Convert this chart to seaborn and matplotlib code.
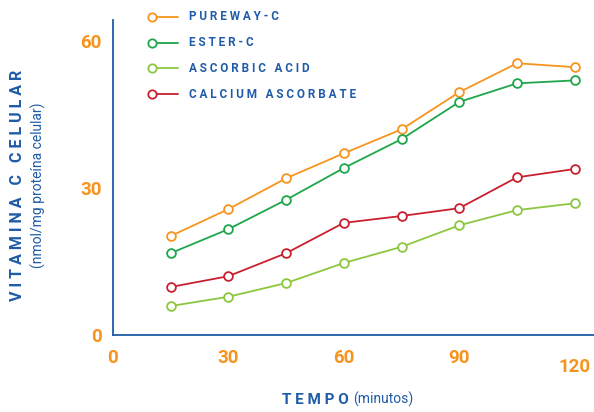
import matplotlib.pyplot as plt
import pandas as pd
import seaborn as sns
from matplotlib.lines import Line2D

# data
minutes = [15, 30, 45, 60, 75, 90, 105, 120]
pureway_c = [20.2, 25.7, 32.0, 37.1, 42.0, 49.6, 55.5, 54.7]
ester_c = [16.7, 21.6, 27.6, 34.1, 40.0, 47.6, 51.4, 52.0]
ascorbic_acid = [5.9, 7.8, 10.6, 14.7, 18.0, 22.4, 25.5, 26.9]
calcium_ascorbate = [9.8, 12.0, 16.7, 22.9, 24.3, 25.9, 32.2, 33.9]

series = ['PUREWAY-C', 'ESTER-C', 'ASCORBIC ACID', 'CALCIUM ASCORBATE']
values = [pureway_c, ester_c, ascorbic_acid, calcium_ascorbate]
colors = ['#F7941D', '#1DA64A', '#8DC63F', '#C8202F']
xticks = [0, 30, 60, 90, 120]
yticks = [0, 30, 60]

blue = '#1F5BA8'
orange = '#F7941D'

df = pd.concat([pd.DataFrame({'tempo': minutes, 'vitc': v, 'serie': s})
                for s, v in zip(series, values)], ignore_index=True)

sns.set_style('white')
plt.rcParams['font.family'] = ['Roboto', 'DejaVu Sans']

fig = plt.figure(figsize=(5.94, 4.12), dpi=100)
ax = fig.add_axes([0.190, 0.187, 0.810, 0.764])

sns.lineplot(data=df, x='tempo', y='vitc', hue='serie', palette=colors,
             hue_order=series, marker='o', markersize=6.3, markerfacecolor='white',
             markeredgewidth=1.3, linewidth=1.3, legend=False, ax=ax)
for line, c in zip(ax.lines, colors):
    line.set_markeredgecolor(c)

ax.set_xlim(0, 125)
ax.set_ylim(0, 64.3)
for s in ['top', 'right']:
    ax.spines[s].set_visible(False)
for s in ['left', 'bottom']:
    ax.spines[s].set_color(blue)
    ax.spines[s].set_linewidth(1.3)

ax.set_xticks(xticks)
ax.set_yticks(yticks)
ax.set_xticklabels([str(t) for t in xticks])
ax.set_yticklabels([str(t) for t in yticks])
ax.tick_params(axis='both', length=0, labelsize=13.5, labelcolor=orange)
ax.tick_params(axis='x', pad=10)
ax.tick_params(axis='y', pad=8)
for lab in ax.get_xticklabels() + ax.get_yticklabels():
    lab.set_fontweight('bold')
# the last x label sits lower and a bit to the right
last = ax.get_xticklabels()[-1]
last.set_y(-0.03)
last.set_x(119.5)

# small ticks at zero only
ax.set_xticks([0], minor=True)
ax.set_yticks([0], minor=True)
ax.tick_params(which='minor', length=4, width=1.3, color=blue)

ax.set_xlabel('')
ax.set_ylabel('')

# axis titles
fig.text(0.030, 0.55, 'V I T A M I N A   C   C E L U L A R', rotation=90,
         ha='center', va='center', color=blue, fontsize=11.5, fontweight='bold')
fig.text(0.064, 0.55, '(nmol/mg proteína celular)', rotation=90,
         ha='center', va='center', color=blue, fontsize=10)
fig.text(0.587, 0.020, 'T E M P O', ha='right', va='baseline',
         color=blue, fontsize=11, fontweight='bold')
fig.text(0.595, 0.020, '(minutos)', ha='left', va='baseline',
         color=blue, fontsize=10)

# legend drawn by hand
for i, (name, c) in enumerate(zip(series, colors)):
    yy = 1 - (17 + 25.7 * i) / 412
    fig.add_artist(Line2D([0.256, 0.300], [yy, yy], color=c, lw=1.3))
    fig.add_artist(Line2D([0.256], [yy], color=c, marker='o', markersize=6,
                          markerfacecolor='white', markeredgewidth=1.3))
    fig.text(0.318, yy, ' '.join(name), ha='left', va='center', color=blue,
             fontsize=8.5, fontweight='bold')

fig.savefig('out.png', dpi=100)
